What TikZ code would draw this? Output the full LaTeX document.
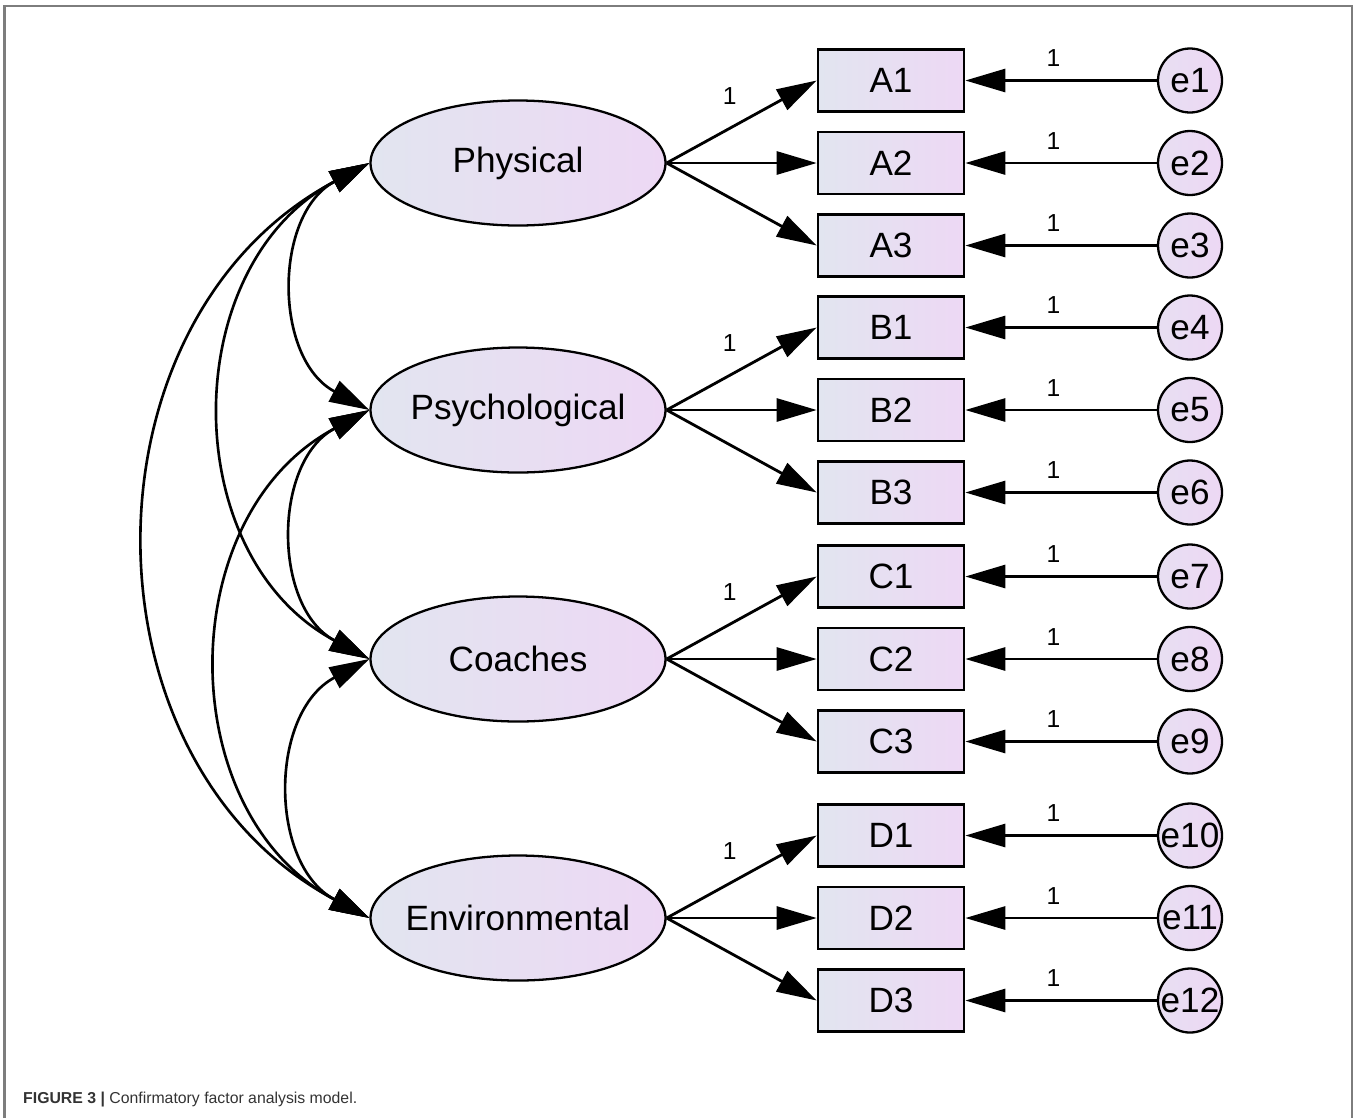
\documentclass[tikz,border=0pt]{standalone}
\usepackage{fontspec}
\setmainfont{Liberation Sans}
\usepackage{tikz}
\usetikzlibrary{shapes.geometric, arrows.meta}
\usepackage{xcolor}
\definecolor{fillL}{RGB}{226,229,240}
\definecolor{fillR}{RGB}{237,216,244}
\definecolor{framegray}{RGB}{125,125,125}

\begin{document}
\begin{tikzpicture}[
    amos/.tip={Triangle[length=0.8cm,width=0.46cm]},
    factor/.style={ellipse, draw, line width=1.3pt, left color=fillL, right color=fillR,
        minimum width=5.9cm, minimum height=2.5cm, inner sep=0pt, font=\fontsize{20}{24}\selectfont},
    item/.style={rectangle, draw, line width=1.5pt, left color=fillL, right color=fillR,
        minimum width=2.92cm, minimum height=1.24cm, inner sep=0pt, font=\fontsize{20}{24}\selectfont},
    err/.style={circle, draw, line width=1.3pt, left color=fillL!50!fillR, right color=fillR,
        minimum size=1.28cm, inner sep=0pt, font=\fontsize{20}{24}\selectfont},
    load/.style={-amos, line width=1.6pt},
    cov/.style={amos-amos, line width=1.5pt, bend right=62, looseness=1.13},
    one/.style={font=\fontsize{14}{16}\selectfont, inner sep=0pt}
]
    \useasboundingbox (0,0) rectangle (27.14,-22.36);
    \draw[framegray, line width=1.2pt] (0.09,-22.36) -- (0.09,-0.12) -- (27.04,-0.12) -- (27.04,-22.36);

    % factors and their items
    \foreach \name/\txt/\y/\k in {phys/Physical/-3.26/A, psy/Psychological/-8.2/B,
                                  coa/Coaches/-13.18/C, env/Environmental/-18.36/D} {
        \node[factor] (\name) at (10.36,\y) {\makebox[0pt]{\txt}};
        \foreach \i/\dy in {1/1.65, 2/0, 3/-1.65}
            \node[item] (\k\i) at (17.82,\y+\dy) {\k\i};
        \draw[load] (\name.east) -- node[one, pos=0.42, above=0.44cm] {1} (\k1.west);
        \draw[load] (\name.east) -- (\k2.west);
        \draw[load] (\name.east) -- (\k3.west);
    }

    % error terms
    \foreach \b/\j in {A1/1,A2/2,A3/3,B1/4,B2/5,B3/6,C1/7,C2/8,C3/9,D1/10,D2/11,D3/12} {
        \node[err] (e\j) at (23.8,0 |- \b) {e\j};
        \draw[load] (e\j) -- node[one, pos=0.54, above=0.25cm] {1} (\b.east);
    }

    % covariances
    \draw[cov] (phys.west) to (psy.west);
    \draw[cov] (psy.west) to (coa.west);
    \draw[cov] (coa.west) to (env.west);
    \draw[cov] (phys.west) to (coa.west);
    \draw[cov] (psy.west) to (env.west);
    \draw[cov] (phys.west) to (env.west);

    \node[anchor=base west, font=\fontsize{9}{11}\selectfont, text=black!80] (cap) at (0.34,-22.06)
        {\textbf{FIGURE 3 |} Confirmatory factor analysis model.};
\end{tikzpicture}
\end{document}
